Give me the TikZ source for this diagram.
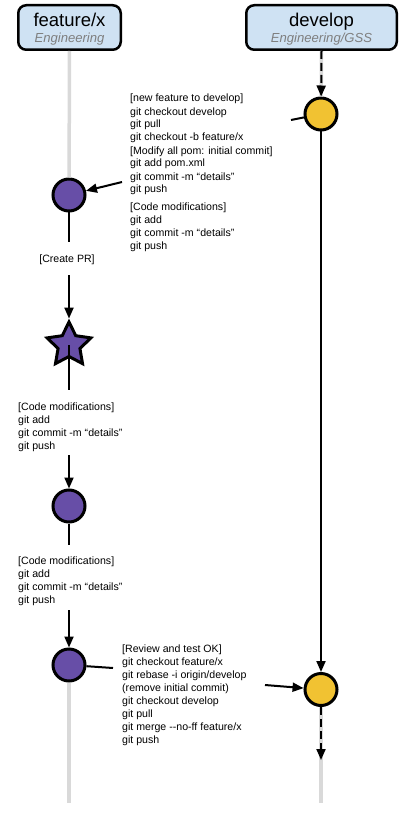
\documentclass[tikz,border=0pt]{standalone}
\usepackage{fontspec}
\setmainfont{Liberation Sans}
\usetikzlibrary{arrows.meta,shapes.geometric}
\definecolor{headblue}{HTML}{CFE2F3}
\definecolor{subgray}{HTML}{7F7F7F}
\definecolor{lanegray}{HTML}{D9D9D9}
\definecolor{featpurple}{HTML}{674EA7}
\definecolor{devyellow}{HTML}{F1C232}
\begin{document}
\begin{tikzpicture}[x=1pt,y=-1pt,
  head/.style={draw,line width=2.5pt,rounded corners=8pt,fill=headblue,minimum height=44.5pt,inner sep=0pt},
  headtitle/.style={anchor=base,inner sep=0pt,font=\fontsize{18.5}{20}\selectfont},
  headsub/.style={anchor=base,inner sep=0pt,text=subgray,font=\fontsize{13.1}{15}\selectfont\itshape},
  lane/.style={line width=3.5pt,draw=lanegray},
  commit/.style={circle,draw,line width=3pt,minimum size=32pt,inner sep=0pt},
  featcommit/.style={commit,fill=featpurple},
  devcommit/.style={commit,fill=devyellow},
  notes/.style={anchor=base west,align=left,inner sep=0pt,font=\fontsize{10.6}{13}\selectfont},
  link/.style={line width=2pt},
  flow/.style={link,-{Triangle[length=11pt,width=9pt]}},
  dashflow/.style={flow,dash pattern=on 8pt off 4pt}]
\useasboundingbox (0,0) rectangle (409,818);
\node[head,minimum width=102.5pt] (feat) at (69.5,27.5) {};
\node[head,minimum width=150.5pt] (dev) at (321.5,27.5) {};
\node[headtitle] (feattitle) at (69.5,27) {feature/x};
\node[headsub] (featsub) at (69.5,43) {Engineering};
\node[headtitle] (devtitle) at (321.5,27) {develop};
\node[headsub] (devsub) at (321.5,43) {Engineering/GSS};
\coordinate (featend) at (69,803);
\coordinate (devend) at (321,803);
\node[devcommit] (y1) at (321,114) {};
\node[devcommit] (y2) at (321,689.5) {};
\node[featcommit] (c1) at (69,195) {};
\node[featcommit] (c3) at (69,665) {};
\draw[lane] (feat.south) -- (c1);
\draw[lane] (c3) -- (featend);
\draw[lane] (dev.south) -- (y1);
\draw[lane] (y2) -- (devend);
\node[star,star points=5,star point ratio=2,minimum size=46pt,inner sep=0pt,draw,line width=3pt,fill=featpurple] (pr) at (69,345) {};
\node[featcommit] (c2) at (69,506) {};
\node[notes] (setup) at (130,249) {[new feature to develop]\\git checkout develop\\git pull\\git checkout -b feature/x\\{[}Modify all pom: initial commit{]}\\git add pom.xml\\git commit -m “details”\\git push\\[4pt]{[}Code modifications{]}\\git add\\git commit -m “details”\\git push};
\node[anchor=base,inner sep=0pt,font=\fontsize{10.6}{13}\selectfont] (createpr) at (67,262) {[Create PR]};
\node[notes] (mods1) at (18,449) {[Code modifications]\\git add\\git commit -m “details”\\git push};
\node[notes] (mods2) at (18,603) {[Code modifications]\\git add\\git commit -m “details”\\git push};
\node[notes] (review) at (122,743) {[Review and test OK]\\git checkout feature/x\\git rebase -i origin/develop\\(remove initial commit)\\git checkout develop\\git pull\\git merge -{}-no-ff feature/x\\git push};
\coordinate (setupin) at (291,120);
\coordinate (setupout) at (122,182);
\coordinate (c1tail) at (69,242);
\coordinate (prhead) at (69,275);
\coordinate (prtail) at (69,390);
\coordinate (mods1out) at (69,455);
\coordinate (c2tail) at (69,545);
\coordinate (mods2out) at (69,610);
\coordinate (reviewin) at (113,668);
\coordinate (reviewout) at (265,685);
\coordinate (devnext) at (321,760);
\draw[dashflow] (dev.south) -- (y1);
\draw[flow] (y1) -- (y2);
\draw[dashflow] (y2) -- (devnext);
\draw[link] (y1) -- (setupin);
\draw[flow] (setupout) -- (c1);
\draw[link] (c1) -- (c1tail);
\draw[flow] (prhead) -- (pr);
\draw[link] (pr.center) -- (prtail);
\draw[flow] (mods1out) -- (c2);
\draw[link] (c2) -- (c2tail);
\draw[flow] (mods2out) -- (c3);
\draw[link] (c3) -- (reviewin);
\draw[flow] (reviewout) -- (y2);
\end{tikzpicture}
\end{document}
